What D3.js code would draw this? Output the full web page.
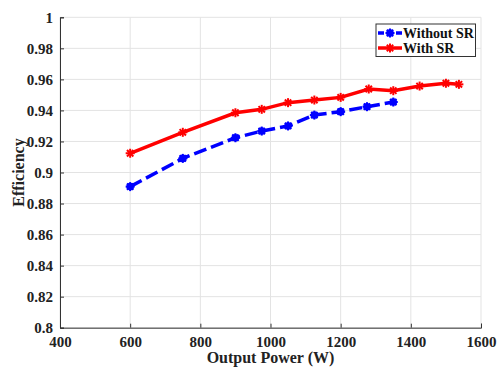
<!DOCTYPE html>
<html><head><meta charset="utf-8">
<script src="https://cdn.jsdelivr.net/npm/d3@7"></script>
<style>body{margin:0;background:#fff}svg{display:block}</style>
</head><body><svg id="c" width="498" height="367"></svg>
<script>
const withoutSR_x = [600, 750, 900, 975, 1050, 1125, 1200, 1275, 1350];
const withoutSR_y = [0.8909, 0.9091, 0.9224, 0.9267, 0.9300, 0.9370, 0.9392, 0.9424, 0.9454];
const withSR_x = [600, 750, 900, 975, 1050, 1125, 1200, 1280, 1350, 1425, 1500, 1537];
const withSR_y = [0.9124, 0.9259, 0.9385, 0.9407, 0.9450, 0.9467, 0.9484, 0.9538, 0.9527, 0.9557, 0.9575, 0.9568];
const xTicks = [400, 600, 800, 1000, 1200, 1400, 1600];
const yTicks = [0.8, 0.82, 0.84, 0.86, 0.88, 0.9, 0.92, 0.94, 0.96, 0.98, 1];
const seriesNames = ["Without SR", "With SR"];

const svg = d3.select("#c");
const L = 60, R = 481, T = 17.3, B = 327.7;
const x = d3.scaleLinear().domain([400, 1600]).range([L, R]);
const y = d3.scaleLinear().domain([0.8, 1]).range([B, T]);
const font = "Liberation Serif";

// grid
const g = svg.append("g");
g.selectAll(".gx").data(xTicks).enter().append("line")
  .attr("x1", d => x(d)).attr("x2", d => x(d)).attr("y1", T).attr("y2", B)
  .attr("stroke", "#e3e3e3").attr("stroke-width", 1);
g.selectAll(".gy").data(yTicks).enter().append("line")
  .attr("y1", d => y(d)).attr("y2", d => y(d)).attr("x1", L).attr("x2", R)
  .attr("stroke", "#e3e3e3").attr("stroke-width", 1);

// axes
const xAxis = d3.axisBottom(x).tickValues(xTicks).tickSize(-4).tickPadding(9).tickFormat(d3.format("d"));
const yAxis = d3.axisLeft(y).tickValues(yTicks).tickSize(-4).tickPadding(7).tickFormat(d => d === 1 ? "1" : d === 0.8 ? "0.8" : d === 0.9 ? "0.9" : d3.format(".2f")(d));
const ax = svg.append("g").attr("transform", `translate(0,${B})`).call(xAxis);
const ay = svg.append("g").attr("transform", `translate(${L},0)`).call(yAxis);
[ax, ay].forEach(a => {
  a.attr("font-family", font);
  a.select(".domain").attr("stroke", "#333").attr("stroke-width", 1);
  a.selectAll(".tick line").attr("stroke", "#333");
  a.selectAll("text").attr("fill", "#222").attr("font-family", font).attr("font-weight", "bold").attr("font-size", 15);
});

// series
const line = d3.line().x(d => x(d[0])).y(d => y(d[1]));
const blue = withoutSR_x.map((v, i) => [v, withoutSR_y[i]]);
const red = withSR_x.map((v, i) => [v, withSR_y[i]]);

function star(sel, cx, cy, r, color) {
  const gg = sel.append("g").attr("transform", `translate(${cx},${cy})`);
  [0, 45, 90, 135].forEach(a => {
    const rad = a * Math.PI / 180;
    gg.append("line").attr("x1", -r * Math.cos(rad)).attr("y1", -r * Math.sin(rad))
      .attr("x2", r * Math.cos(rad)).attr("y2", r * Math.sin(rad))
      .attr("stroke", color).attr("stroke-width", 2);
  });
  return gg;
}

svg.append("path").datum(blue).attr("d", line).attr("fill", "none")
  .attr("stroke", "#0000ff").attr("stroke-width", 3.5).attr("stroke-dasharray", "13,5");
blue.forEach(d => {
  svg.append("circle").attr("cx", x(d[0])).attr("cy", y(d[1])).attr("r", 3.8).attr("fill", "#0000ff");
  star(svg, x(d[0]), y(d[1]), 4.5, "#0000ff");
});
svg.append("path").datum(red).attr("d", line).attr("fill", "none")
  .attr("stroke", "#ff0000").attr("stroke-width", 3.5);
red.forEach(d => star(svg, x(d[0]), y(d[1]), 4.5, "#ff0000"));

// legend
const lg = svg.append("g");
lg.append("rect").attr("x", 376).attr("y", 24).attr("width", 99.5).attr("height", 32.5)
  .attr("fill", "#fff").attr("stroke", "#333").attr("stroke-width", 1);
const items = [{c: "#0000ff", dash: "6,3", y: 33, circ: true}, {c: "#ff0000", dash: null, y: 48, circ: false}];
items.forEach((it, i) => {
  lg.append("line").attr("x1", 378).attr("x2", 402).attr("y1", it.y).attr("y2", it.y)
    .attr("stroke", it.c).attr("stroke-width", 3.5).attr("stroke-dasharray", it.dash);
  if (it.circ) lg.append("circle").attr("cx", 390).attr("cy", it.y).attr("r", 3.8).attr("fill", it.c);
  star(lg, 390, it.y, 4.5, it.c);
  lg.append("text").attr("x", 403).attr("y", it.y).attr("dy", "0.35em")
    .attr("font-family", font).attr("font-weight", "bold").attr("font-size", 14)
    .attr("fill", "#111").text(seriesNames[i]);
});

// titles
svg.append("text").attr("x", (L + R) / 2).attr("y", 363).attr("text-anchor", "middle")
  .attr("font-family", font).attr("font-weight", "bold").attr("font-size", 16).attr("fill", "#222")
  .text("Output Power (W)");
svg.append("text").attr("transform", `translate(18,${(T + B) / 2}) rotate(-90)`).attr("dy", "0.35em").attr("text-anchor", "middle")
  .attr("font-family", font).attr("font-weight", "bold").attr("font-size", 16).attr("fill", "#222")
  .text("Efficiency");
</script></body></html>
